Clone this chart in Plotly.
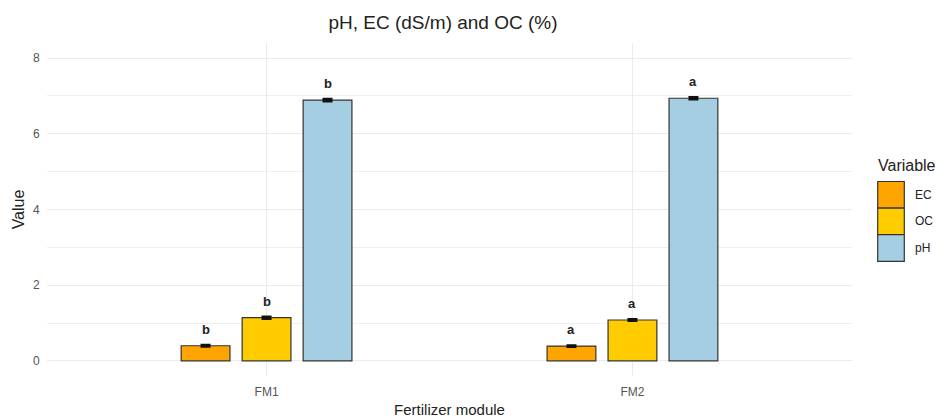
import plotly.graph_objects as go

modules = ["FM1", "FM2"]
variables = ["EC", "OC", "pH"]
values = {
    "EC": [0.40, 0.39],
    "OC": [1.14, 1.08],
    "pH": [6.89, 6.94],
}
errors = {
    "EC": [0.02, 0.02],
    "OC": [0.03, 0.02],
    "pH": [0.03, 0.03],
}
letters = {
    "EC": ["b", "a"],
    "OC": ["b", "a"],
    "pH": ["b", "a"],
}
colors = {"EC": "#FFA500", "OC": "#FFCC00", "pH": "#A6CEE3"}

W, H = 941, 420
ML, MR, MT, MB = 47, 89, 43, 44
PW, PH = W - ML - MR, H - MT - MB
XRANGE = [-0.6, 1.6]
BARGAP = 0.5


def px2x(px):
    return (px - ML) / PW


def px2y(py):
    return (H - MB - py) / PH


fig = go.Figure()
for v in variables:
    fig.add_trace(go.Bar(
        x=modules, y=values[v], name=v, offsetgroup=v,
        marker=dict(color=colors[v], line=dict(color="#333333", width=1.2)),
        error_y=dict(type="data", array=errors[v], color="#111111", thickness=2.3, width=5),
        showlegend=False,
    ))

annotations = []
# significance letters, placed above each dodged bar
slot_px = (1 - BARGAP) / len(variables) * PW / (XRANGE[1] - XRANGE[0])
for i, v in enumerate(variables):
    for m, val, err, lt in zip(modules, values[v], errors[v], letters[v]):
        annotations.append(dict(
            x=m, y=val + err, xref="x", yref="y", text=lt, showarrow=False,
            xanchor="center", yanchor="bottom",
            xshift=(i - (len(variables) - 1) / 2) * slot_px, yshift=6,
            font=dict(family="Liberation Sans, Arial", size=13, color="#222222", weight="bold"),
        ))

# custom legend
shapes = []
key_x0, key_x1 = 877.7, 904.3
key_top, key_h = 181.5, 26.6
for i, v in enumerate(variables):
    y0 = key_top + i * key_h
    shapes.append(dict(type="rect", xref="paper", yref="paper",
                       x0=px2x(key_x0), x1=px2x(key_x1),
                       y0=px2y(y0 + key_h), y1=px2y(y0),
                       fillcolor=colors[v], line=dict(color="#333333", width=1.2)))
    annotations.append(dict(xref="paper", yref="paper", x=px2x(913), y=px2y(y0 + key_h / 2),
                            text=v, showarrow=False, xanchor="left", yanchor="middle",
                            font=dict(family="Liberation Sans, Arial", size=12, color="#222222")))
annotations.append(dict(xref="paper", yref="paper", x=px2x(876), y=px2y(165),
                        text="Variable", showarrow=False, xanchor="left", yanchor="middle",
                        font=dict(family="Liberation Sans, Arial", size=16, color="#222222")))

fig.update_layout(
    width=W, height=H,
    margin=dict(l=ML, r=MR, t=MT, b=MB, autoexpand=False),
    paper_bgcolor="white", plot_bgcolor="white",
    barmode="group", bargap=BARGAP, bargroupgap=0.2,
    title=dict(text="pH, EC (dS/m) and OC (%)", x=443 / W, xanchor="center",
               y=1 - 22 / H, yanchor="middle",
               font=dict(family="Liberation Sans, Arial", size=19, color="#222222")),
    font=dict(family="Liberation Sans, Arial"),
    shapes=shapes, annotations=annotations,
    showlegend=False,
)
fig.update_xaxes(
    automargin=False,
    title=dict(text="Fertilizer module", font=dict(size=15, color="#222222"), standoff=6),
    tickfont=dict(size=12, color="#555555"),
    showgrid=True, gridcolor="#EBEBEB", gridwidth=1.3,
    zeroline=False, showline=False, ticks="outside", ticklen=5, tickcolor="rgba(0,0,0,0)",
    range=XRANGE,
)
fig.update_yaxes(
    automargin=False,
    title=dict(text="Value", font=dict(size=16, color="#222222"), standoff=4),
    tickfont=dict(size=12, color="#555555"),
    range=[-0.4, 8.4], tickvals=[0, 2, 4, 6, 8],
    showgrid=True, gridcolor="#EBEBEB", gridwidth=1.3,
    minor=dict(tickvals=[1, 3, 5, 7], showgrid=True, gridcolor="#EFEFEF", gridwidth=1),
    zeroline=False, showline=False, ticks="outside", ticklen=4, tickcolor="rgba(0,0,0,0)",
)

fig.write_html("out.html")
